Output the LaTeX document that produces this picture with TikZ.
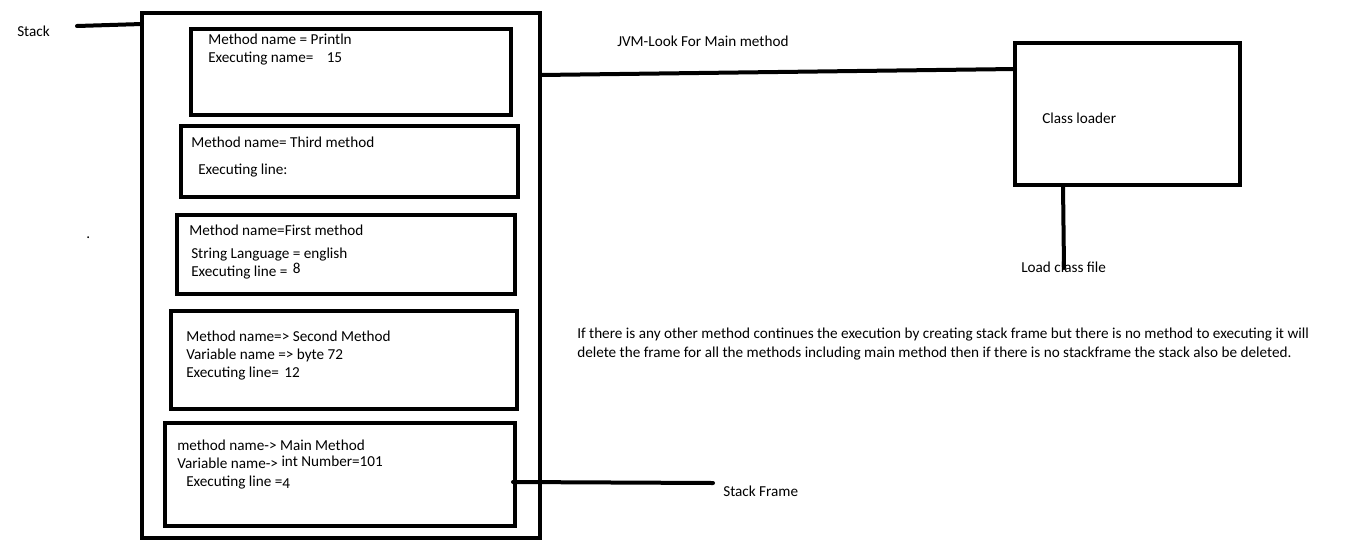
\documentclass[tikz,border=0pt]{standalone}
\usepackage{fontspec}
\setmainfont{Carlito}
\begin{document}
\begin{tikzpicture}[x=0.75pt,y=-0.75pt,
  box/.style={draw, line width=3pt, rectangle, inner sep=0pt, outer sep=0pt, anchor=north west},
  txt/.style={inner sep=0pt, anchor=base west, font=\fontsize{11.4}{13}\selectfont},
  wire/.style={line width=3pt, line cap=round}]
\useasboundingbox[fill=white] (0,0) rectangle (1360,558);

% boxes
\node[box, minimum width=398*0.75pt, minimum height=525*0.75pt] (stack) at (142,13) {};
\node[box, minimum width=320*0.75pt, minimum height=86*0.75pt] (f1) at (191,29) {};
\node[box, minimum width=337*0.75pt, minimum height=71*0.75pt] (f2) at (181,126) {};
\node[box, minimum width=338*0.75pt, minimum height=79*0.75pt] (f3) at (177,215) {};
\node[box, minimum width=346*0.75pt, minimum height=98*0.75pt] (f4) at (171,311) {};
\node[box, minimum width=350*0.75pt, minimum height=103*0.75pt] (f5) at (165,423) {};
\node[box, minimum width=225*0.75pt, minimum height=142*0.75pt] (cl) at (1015,43) {};

% texts
\node[txt] (lstack) at (17,36) {Stack};
\node[txt] (dot) at (86,238) {.};
\node[txt] (t11) at (208,44) {Method name = Println};
\node[txt] (t12) at (208,62) {Executing name=\hspace{10pt}15};
\node[txt] (t21) at (191,147) {Method name= Third method};
\node[txt] (t22) at (198,174) {Executing line:};
\node[txt] (t31) at (189,235) {Method name=First method};
\node[txt] (t32) at (191,258) {String Language = english};
\node[txt] (t33) at (191,276) {Executing line =\hspace{4pt}\raisebox{2pt}{8}};
\node[txt] (t41) at (186,341) {Method name=> Second Method};
\node[txt] (t42) at (186,359) {Variable name => byte 72};
\node[txt] (t43) at (186,377) {Executing line=\hspace{4pt}12};
\node[txt] (t51) at (177,450) {method name-> Main Method};
\node[txt] (t52) at (177,468) {Variable name-> \raisebox{1.5pt}{int Number=101}};
\node[txt] (t53) at (186,486) {Executing line =\raisebox{-1.5pt}{4}};
\node[txt] (lsf) at (723,496) {Stack Frame};
\node[txt] (ljvm) at (617,46) {JVM-Look For Main method};
\node[txt] (lcl) at (1042,123) {Class loader};
\node[txt] (lload) at (1021,272) {Load class file};
\node[txt] (note1) at (577,338) {If there is any other method continues the execution by creating stack frame but there is no method to executing it will};
\node[txt] (note2) at (577,357) {delete the frame for all the methods including main method then if there is no stackframe the stack also be deleted.};

% connectors
\coordinate (stackend) at (77,26);
\coordinate (sfend) at (713,483);
\coordinate (loadend) at (1064,268);
\draw[wire] (stackend) -- ([shift={(0,11)}]stack.north west);
\draw[wire] ([shift={(0,62)}]stack.north east) -- ([shift={(0,26)}]cl.north west);
\draw[wire] ([shift={(-2,59)}]f5.north east) -- (sfend);
\draw[wire] ([shift={(48,0)}]cl.south west) -- (loadend);
\end{tikzpicture}
\end{document}
